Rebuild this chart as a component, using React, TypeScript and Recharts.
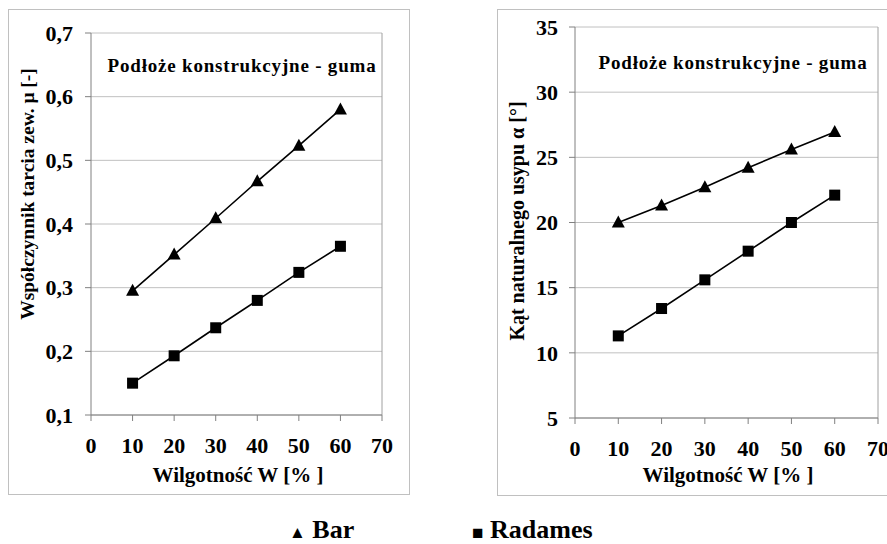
import { LineChart, Line, XAxis, YAxis, CartesianGrid, ReferenceLine } from "recharts";

const moisture = [10, 20, 30, 40, 50, 60];
const muBar = [0.295, 0.352, 0.409, 0.467, 0.523, 0.58];
const muRadames = [0.15, 0.193, 0.237, 0.28, 0.324, 0.365];
const alphaBar = [20.0, 21.3, 22.7, 24.2, 25.6, 26.95];
const alphaRadames = [11.3, 13.4, 15.6, 17.8, 20.0, 22.1];
const xTicks = [0, 10, 20, 30, 40, 50, 60, 70];
const muTicks = [0.1, 0.2, 0.3, 0.4, 0.5, 0.6, 0.7];
const alphaTicks = [5, 10, 15, 20, 25, 30, 35];

const FONT = "Liberation Serif, DejaVu Serif, serif";

const muData = moisture.map((w, i) => ({ w, bar: muBar[i], radames: muRadames[i] }));
const alphaData = moisture.map((w, i) => ({ w, bar: alphaBar[i], radames: alphaRadames[i] }));

const Triangle = (props: any) => {
  const { cx, cy } = props;
  if (cx == null || cy == null) return null;
  return <path d={`M${cx},${cy - 7} L${cx + 6.5},${cy + 5} L${cx - 6.5},${cy + 5} Z`} fill="#000" />;
};

const Square = (props: any) => {
  const { cx, cy } = props;
  if (cx == null || cy == null) return null;
  return <rect x={cx - 5.5} y={cy - 5.5} width={11} height={11} fill="#000" />;
};

const tickStyle = { fontFamily: FONT, fontSize: 22, fontWeight: "bold", fill: "#000" };

const Panel = ({ data, yTicks, yDomain, fmt, margin, width, height, yMargin }: any) => (
  <LineChart width={width} height={height} data={data} margin={margin} style={{ fontFamily: FONT }}>
    <CartesianGrid vertical={false} stroke="#c0c0c0" strokeWidth={1} />
    <XAxis
      dataKey="w"
      type="number"
      domain={[0, 70]}
      ticks={xTicks}
      interval={0}
      stroke="#808080"
      tickSize={6}
      tick={tickStyle}
      tickMargin={16}
      height={70}
    />
    <YAxis
      type="number"
      domain={yDomain}
      ticks={yTicks}
      interval={0}
      stroke="#808080"
      tickSize={6}
      tick={tickStyle}
      tickMargin={yMargin}
      tickFormatter={fmt}
      width={60}
    />
    <ReferenceLine x={70} stroke="#a0a0a0" />
    <Line dataKey="bar" stroke="#000" strokeWidth={1.6} dot={<Triangle />} isAnimationActive={false} />
    <Line dataKey="radames" stroke="#000" strokeWidth={1.6} dot={<Square />} isAnimationActive={false} />
  </LineChart>
);

const textBase: any = { position: "absolute", fontFamily: FONT, fontWeight: "bold", color: "#000", whiteSpace: "nowrap", lineHeight: 1 };

export default function App() {
  return (
    <div style={{ position: "absolute", left: 0, top: 0, width: 887, height: 544, background: "#fff", overflow: "hidden" }}>
      {/* left panel */}
      <div style={{ position: "absolute", left: 8, top: 9, width: 400, height: 484, border: "1px solid #c0c0c0" }}>
        <Panel
          data={muData}
          yTicks={muTicks}
          yDomain={[0.1, 0.7]}
          fmt={(v: number) => v.toFixed(1).replace(".", ",")}
          margin={{ top: 23, right: 27, bottom: 9, left: 22 }}
          width={400}
          height={484}
          yMargin={12}
        />
      </div>
      {/* right panel */}
      <div style={{ position: "absolute", left: 497, top: 9, width: 400, height: 485, border: "1px solid #c0c0c0" }}>
        <Panel
          data={alphaData}
          yTicks={alphaTicks}
          yDomain={[5, 35]}
          fmt={(v: number) => String(v)}
          margin={{ top: 17, right: 20, bottom: 7, left: 17 }}
          width={400}
          height={485}
          yMargin={11}
        />
      </div>

      <div style={{ ...textBase, left: 242, top: 65, fontSize: 19, transform: "translate(-50%, -50%)", letterSpacing: 0.8 }}>
        Podłoże konstrukcyjne - guma
      </div>
      <div style={{ ...textBase, left: 733, top: 62, fontSize: 19, transform: "translate(-50%, -50%)", letterSpacing: 0.8 }}>
        Podłoże konstrukcyjne - guma
      </div>

      <div style={{ ...textBase, left: 28, top: 194, fontSize: 19.5, transform: "translate(-50%, -50%) rotate(-90deg)" }}>
        Współczynnik tarcia zew. μ [-]
      </div>
      <div style={{ ...textBase, left: 517, top: 221, fontSize: 20, transform: "translate(-50%, -50%) rotate(-90deg)" }}>
        Kąt naturalnego usypu α [°]
      </div>

      <div style={{ ...textBase, left: 238, top: 475, fontSize: 21, transform: "translate(-50%, -50%)" }}>
        Wilgotność W [% ]
      </div>
      <div style={{ ...textBase, left: 728, top: 475, fontSize: 21, transform: "translate(-50%, -50%)" }}>
        Wilgotność W [% ]
      </div>

      <div style={{ ...textBase, left: 289, top: 530, fontSize: 26, transform: "translateY(-50%)" }}>
        <span style={{ fontSize: 17, verticalAlign: "middle" }}>▲</span> Bar
      </div>
      <div style={{ ...textBase, left: 472, top: 530, fontSize: 26, transform: "translateY(-50%)" }}>
        <span style={{ fontSize: 19, verticalAlign: "middle" }}>■</span> Radames
      </div>
    </div>
  );
}
